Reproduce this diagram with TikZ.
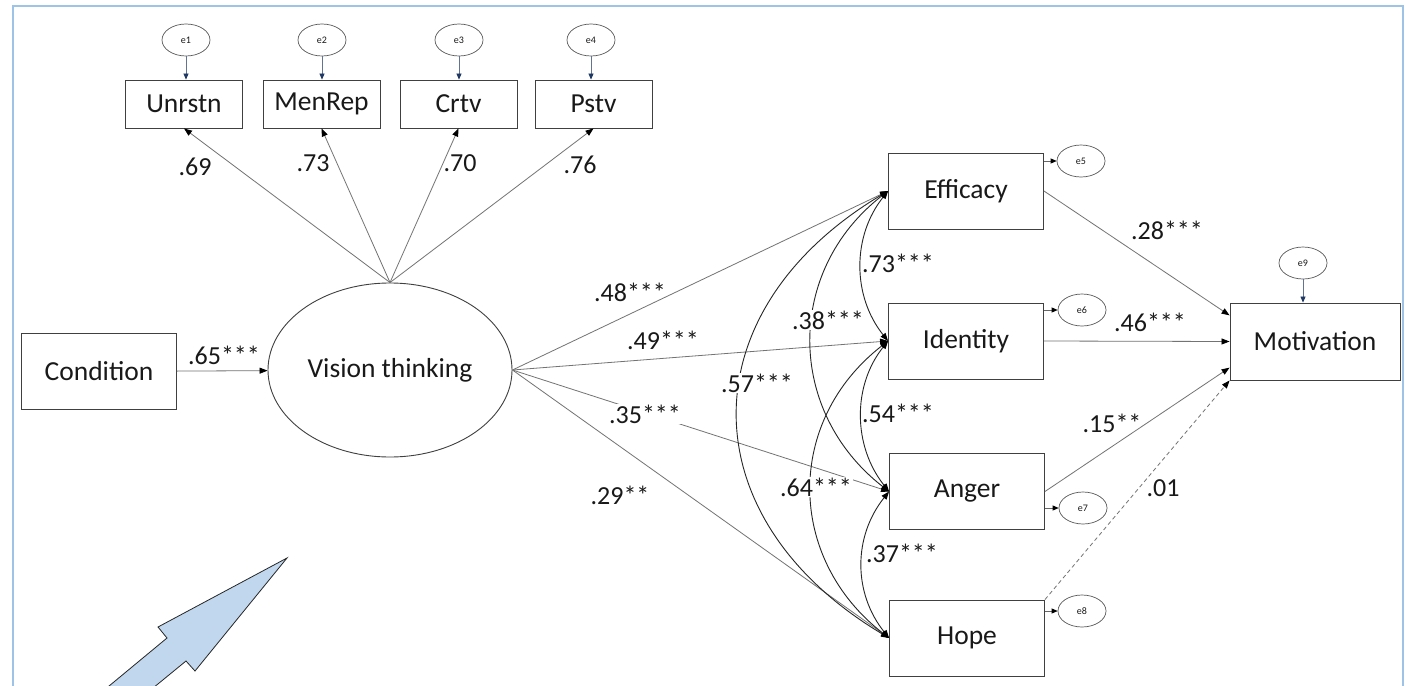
\documentclass[tikz,border=0pt]{standalone}
\usepackage{fontspec}
\setmainfont{Carlito}
\usetikzlibrary{arrows.meta,shapes.geometric}
\definecolor{frameblue}{HTML}{9DC3E6}
\definecolor{arrowfill}{HTML}{C0D7EE}
\definecolor{navyb}{HTML}{1F3864}
\begin{document}
\begin{tikzpicture}[x=1pt,y=-1pt,
  txt/.style={text=black!90},
  box/.style={draw=black!75, line width=0.9pt, minimum width=155pt, minimum height=76pt, inner sep=0pt, font=\fontsize{27.5}{31}\selectfont, txt},
  ind/.style={box, minimum width=117pt, minimum height=48pt},
  latent/.style={ellipse, draw=black!75, line width=0.9pt, minimum width=244pt, minimum height=174pt, inner sep=0pt, font=\fontsize{27.5}{31}\selectfont, txt},
  err/.style={ellipse, draw=black!65, line width=0.7pt, minimum width=48pt, minimum height=32pt, inner sep=0pt, font=\fontsize{10}{12}\selectfont, txt},
  coef/.style={font=\fontsize{26}{30}\selectfont, inner sep=1pt, txt},
  coefw/.style={coef, fill=white},
  lnk/.style={draw=black!55, line width=0.8pt, -{Triangle[length=8pt,width=6pt,color=black]}},
  corr/.style={draw=black!85, line width=0.9pt, {Triangle[length=8pt,width=6pt,color=black]}-{Triangle[length=8pt,width=6pt,color=black]}},
  earr/.style={draw=black!60, line width=0.7pt, -{Triangle[length=6pt,width=5pt,color=black]}},
  earrn/.style={draw=navyb!70, line width=0.7pt, -{Triangle[length=6pt,width=5pt,color=navyb]}},
]
\clip (0,0) rectangle (1410,685);
\fill[white] (0,0) rectangle (1410,685);
% frame
\draw[frameblue, line width=2pt] (13,700) -- (13,6) -- (1403,6) -- (1403,700);

% nodes
\node[box] (Cond) at (99,371.5) {Condition};
\node[latent] (VT) at (390,370) {Vision thinking};
\node[ind] (Unr) at (184,104) {Unrstn};
\node[ind] (Men) at (321.5,104) {MenRep};
\node[ind] (Crt) at (458.5,104) {Crtv};
\node[ind] (Pst) at (593.5,104) {Pstv};
\node[err] (e1) at (186,40) {e1};
\node[err] (e2) at (322,40) {e2};
\node[err] (e3) at (459,40) {e3};
\node[err] (e4) at (591,40) {e4};
\node[box] (Eff) at (966,191) {Efficacy};
\node[box] (Iden) at (966,341) {Identity};
\node[box] (Ang) at (967,491.5) {Anger};
\node[box] (Hope) at (967,638) {Hope};
\node[box, minimum width=170pt, minimum height=77pt] (Mot) at (1315,341.5) {Motivation};
\node[err] (e5) at (1081,161) {e5};
\node[err] (e6) at (1082,310) {e6};
\node[err] (e7) at (1083,508) {e7};
\node[err] (e8) at (1082,611) {e8};
\node[err] (e9) at (1303,263) {e9};

% error arrows
\draw[earrn] (e1) -- (e1 |- Unr.north);
\draw[earrn] (e2) -- (e2 |- Men.north);
\draw[earrn] (e3) -- (e3 |- Crt.north);
\draw[earrn] (e4) -- (e4 |- Pst.north);
\draw[earrn] (e9) -- (e9 |- Mot.north);
\draw[earr] (Eff.east |- e5) -- (e5);
\draw[earr] (Iden.east |- e6) -- (e6);
\draw[earr] (Ang.east |- e7) -- (e7);
\draw[earr] (Hope.east |- e8) -- (e8);

% paths
\draw[lnk] (Cond) -- (VT);
\draw[lnk] (VT.north) -- (Unr.south);
\draw[lnk] (VT.north) -- (Men.south);
\draw[lnk] (VT.north) -- (Crt.south);
\draw[lnk] (VT.north) -- (Pst.south);
\draw[lnk] (VT.east) -- (Eff.west);
\draw[lnk] (VT.east) -- (Iden.west);
\draw[lnk] (VT.east) -- (Ang.west);
\draw[lnk] (VT.east) -- (Hope.west);
\draw[lnk] (Eff.east) -- (Mot.163);
\draw[lnk] (Iden.east) -- (Mot.west);
\draw[lnk] (Ang.east) -- (Mot.197);
\draw[lnk, dash pattern=on 4pt off 3pt] (Hope.north east) -- (Mot.south west);

% correlations
\draw[corr] (Eff.west) .. controls +(-36,45) and +(-36,-45) .. (Iden.west);
\draw[corr] (Iden.west) .. controls +(-36,45) and +(-36,-45) .. (Ang.west);
\draw[corr] (Ang.west) .. controls +(-36,45) and +(-36,-45) .. (Hope.west);
\draw[corr] (Eff.west) .. controls +(-103,80) and +(-103,-80) .. (Ang.west);
\draw[corr] (Iden.west) .. controls +(-103,80) and +(-103,-80) .. (Hope.west);
\draw[corr] (Eff.west) .. controls +(-201,120) and +(-201,-120) .. (Hope.west);

% labels
\node[coef] at (224,355) {.65***};
\node[coef] at (195,167) {.69};
\node[coef] at (313,163) {.73};
\node[coef] at (460,163) {.70};
\node[coef] at (580,165) {.76};
\node[coef] at (630,292) {.48***};
\node[coef] at (663,340) {.49***};
\node[coefw] at (645,414) {.35***};
\node[coef] at (620,495) {.29**};
\node[coef] at (898,263) {.73***};
\node[coef] at (898,413) {.54***};
\node[coef] at (902,553) {.37***};
\node[coefw] at (828,320) {.38***};
\node[coefw] at (816,487) {.64***};
\node[coefw] at (757,383) {.57***};
\node[coef] at (1167,230) {.28***};
\node[coef] at (1150,322) {.46***};
\node[coef] at (1112,423) {.15**};
\node[coef] at (1163,488) {.01};

% block arrow
\filldraw[fill=arrowfill, draw=black!85, line width=0.8pt]
  (287,558) -- (195,671) -- (186,661) -- (114,720) -- (68,720) -- (167,638) -- (158,627) -- cycle;
\end{tikzpicture}
\end{document}
